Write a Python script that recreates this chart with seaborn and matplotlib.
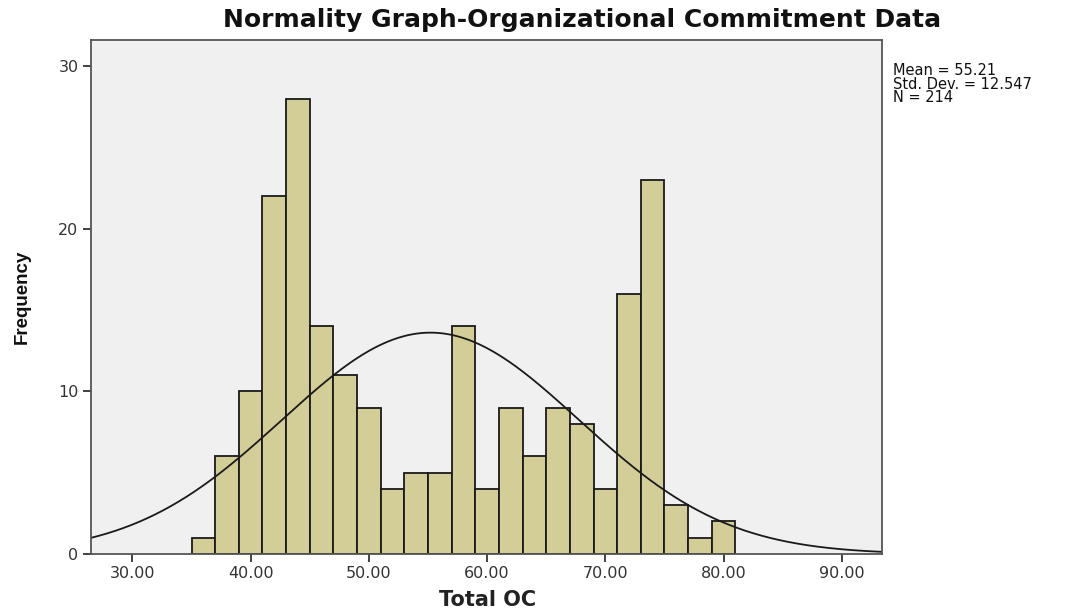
import matplotlib
matplotlib.use("Agg")
import matplotlib.pyplot as plt
import seaborn as sns
import numpy as np
import pandas as pd

# histogram counts, bins of width 2 starting at 35
bin_start = 35
bin_width = 2
counts = [1, 6, 10, 22, 28, 14, 11, 9, 4, 5, 5, 14, 4, 9, 6, 9, 8, 4, 16, 23, 3, 1, 2]
mean_val = 55.21
std_val = 12.547
n_val = 214

x_ticks = [30, 40, 50, 60, 70, 80, 90]
y_ticks = [0, 10, 20, 30]

bin_end = bin_start + bin_width * len(counts)
centers = bin_start + bin_width * (np.arange(len(counts)) + 0.5)
df = pd.DataFrame({'total_oc': centers, 'freq': counts})

sns.set_style('white')
plt.rcParams['font.family'] = ['DejaVu Sans']
fig = plt.figure(figsize=(10.66, 6.08), dpi=100)
ax = fig.add_axes([91 / 1066, 54 / 608, 791 / 1066, 514 / 608])
ax.set_facecolor('#f0f0f0')

sns.histplot(data=df, x='total_oc', weights='freq', binwidth=bin_width,
             binrange=(bin_start, bin_end), ax=ax,
             color='#d3ce97', edgecolor='#1a1a1a', linewidth=1.3, alpha=1)

# normal curve scaled to the counts
xs = np.linspace(26.5, 93.5, 400)
ys = n_val * bin_width * np.exp(-0.5 * ((xs - mean_val) / std_val) ** 2) / (std_val * np.sqrt(2 * np.pi))
sns.lineplot(x=xs, y=ys, ax=ax, color='#1a1a1a', linewidth=1.3)

ax.set_xlim(26.5, 93.4)
ax.set_ylim(0, 31.6)
ax.set_xticks(x_ticks)
ax.set_xticklabels([f'{v:.2f}' for v in x_ticks])
ax.set_yticks(y_ticks)
ax.tick_params(axis='both', direction='out', length=6, width=1.3, color='#333333',
               labelsize=11.5, labelcolor='#333333', bottom=True, left=True, pad=3)
for sp in ax.spines.values():
    sp.set_color('#555555')
    sp.set_linewidth(1.3)

ax.set_xlabel('')
ax.set_ylabel('Frequency', fontsize=13.5, fontweight='bold', labelpad=20, color='#111111',
              family=['Liberation Sans Narrow', 'Liberation Sans'])
fig.text(488 / 1066, 1 - 600 / 608, 'Total OC', ha='center', va='center',
         fontsize=15, fontweight='bold', color='#222222')
fig.text(582 / 1066, 1 - 20 / 608, 'Normality Graph-Organizational Commitment Data',
         ha='center', va='center', fontsize=18, fontweight='bold', color='#111111')
fig.text(893 / 1066, 1 - 63 / 608, f'Mean = {mean_val}\nStd. Dev. = {std_val}\nN = {n_val}',
         ha='left', va='top', fontsize=10.5, linespacing=0.88, color='#111111')

fig.savefig('out.png', dpi=100)
